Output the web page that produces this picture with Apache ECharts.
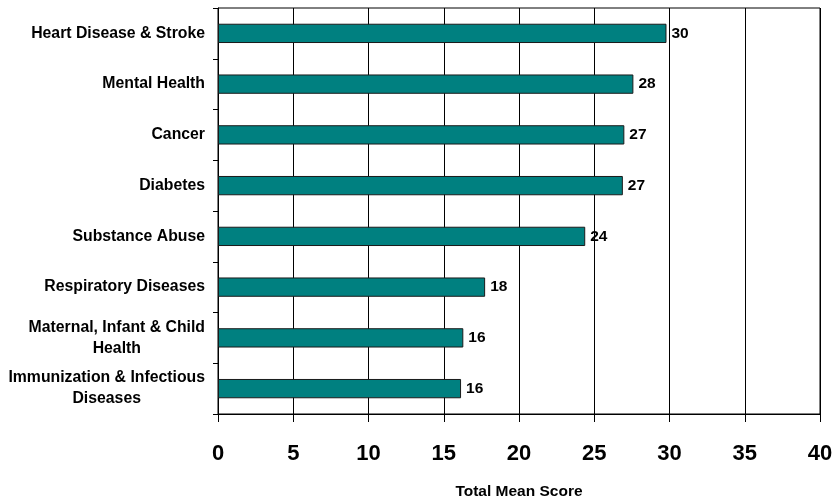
<!DOCTYPE html>
<html>
<head>
<meta charset="utf-8">
<script src="https://cdn.jsdelivr.net/npm/echarts@6/dist/echarts.min.js"></script>
<style>html,body{margin:0;padding:0;background:#fff;}#c{width:837px;height:496px;}</style>
</head>
<body>
<div id="c"></div>
<script>
var categories = [
  "Heart Disease & Stroke",
  "Mental Health",
  "Cancer",
  "Diabetes",
  "Substance Abuse",
  "Respiratory Diseases",
  "Maternal, Infant & Child\nHealth",
  "Immunization & Infectious\nDiseases"
];
var scores = [29.8, 27.6, 27.0, 26.9, 24.4, 17.75, 16.3, 16.15];
var xTicks = { min: 0, max: 40, interval: 5 };
var axisTitle = "Total Mean Score";

var FONT = "Arial, 'Liberation Sans', sans-serif";
var chart = echarts.init(document.getElementById('c'));
chart.setOption({
  animation: false,
  backgroundColor: '#fff',
  grid: { left: 218, right: 17, top: 8, bottom: 82, show: true, borderColor: '#000', borderWidth: 1, backgroundColor: 'transparent', containLabel: false, outerBoundsMode: 'none' },
  xAxis: {
    type: 'value', min: xTicks.min, max: xTicks.max, interval: xTicks.interval,
    name: axisTitle, nameLocation: 'middle', nameGap: 70,
    nameTextStyle: { fontFamily: FONT, fontWeight: 'bold', fontSize: 15.5, color: '#000' },
    axisLine: { show: true, lineStyle: { color: '#000', width: 1 } },
    axisTick: { show: true, length: 8, lineStyle: { color: '#000' } },
    axisLabel: { fontFamily: FONT, fontWeight: 'bold', fontSize: 22, color: '#000', margin: 29 },
    splitLine: { show: true, lineStyle: { color: '#000', width: 1 } }
  },
  yAxis: {
    type: 'category', data: categories, inverse: true,
    axisLine: { show: true, lineStyle: { color: '#000', width: 1 } },
    axisTick: { show: true, length: 5, lineStyle: { color: '#000' } },
    axisLabel: {
      margin: 13, color: '#000', fontFamily: FONT, fontWeight: 'bold', fontSize: 15.8,
      formatter: function (v) {
        return v.split('\n').map(function (s) { return '{a|' + s + '}'; }).join('\n');
      },
      rich: { a: { align: 'center', fontFamily: FONT, fontWeight: 'bold', fontSize: 15.8, color: '#000', lineHeight: 21 } }
    }
  },
  series: [{
    type: 'bar', data: scores, barCategoryGap: '62%',
    itemStyle: { color: '#008080', borderColor: '#1a1a1a', borderWidth: 1 },
    label: {
      show: true, position: 'right', distance: 5,
      fontFamily: FONT, fontWeight: 'bold', fontSize: 15.5, color: '#000',
      formatter: function (p) { return Math.round(p.value); }
    }
  }]
});
</script>
</body>
</html>
